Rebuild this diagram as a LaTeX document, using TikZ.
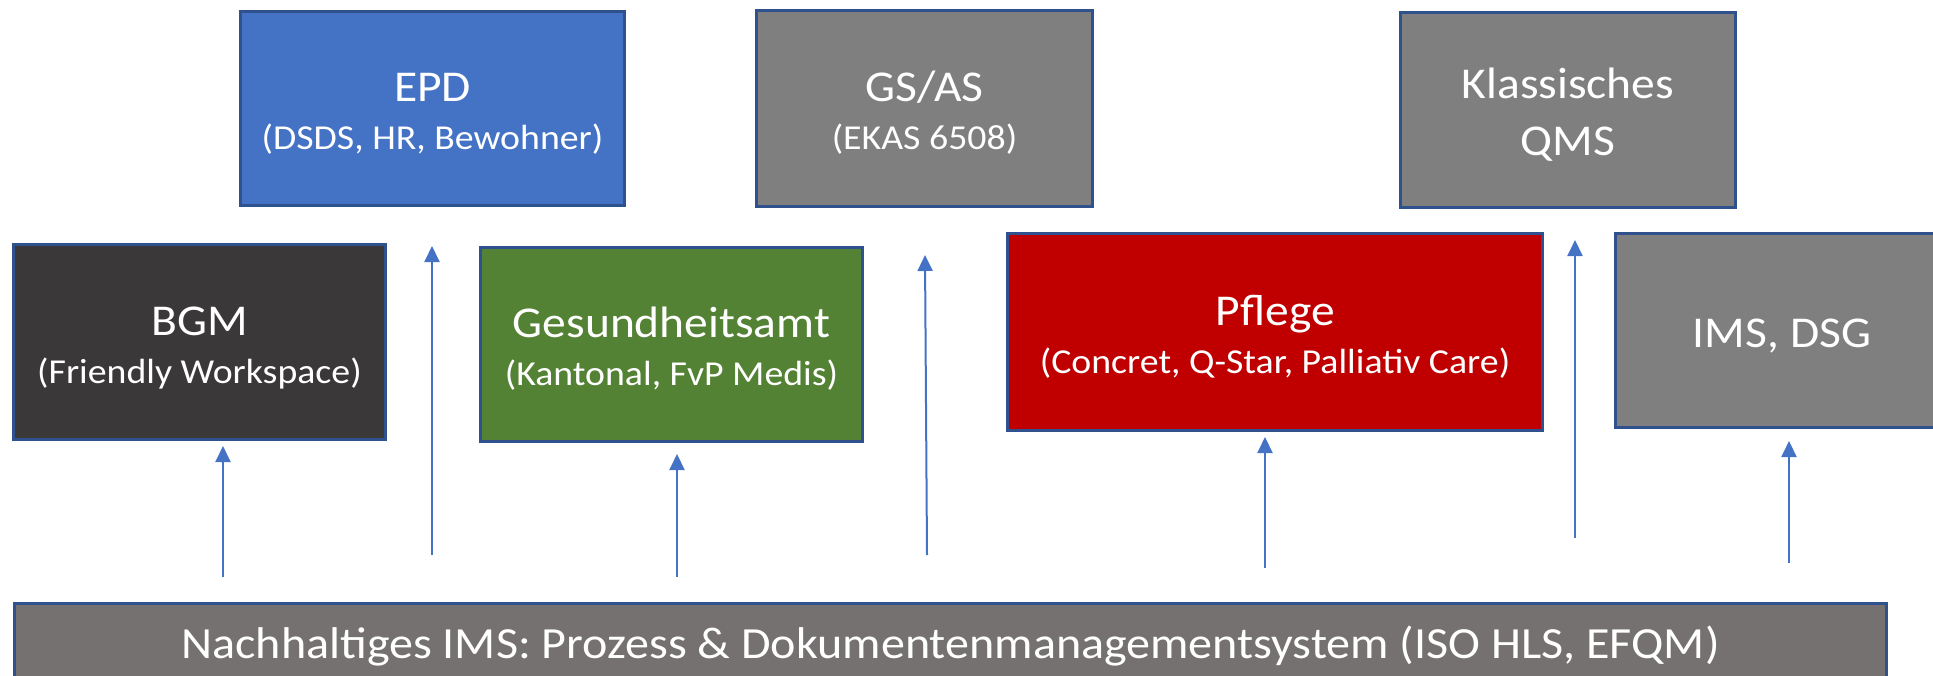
\documentclass[tikz,border=0pt]{standalone}
\usepackage{fontspec}
\setmainfont{Carlito}[FakeStretch=1.08]
\usepackage{tikz}
\usetikzlibrary{arrows.meta, positioning}

\definecolor{epdblue}{HTML}{4472C4}
\definecolor{boxgray}{HTML}{7F7F7F}
\definecolor{bgmdark}{HTML}{3A3838}
\definecolor{amtgreen}{HTML}{548235}
\definecolor{pflegered}{HTML}{C00000}
\definecolor{basegray}{HTML}{767171}
\definecolor{rimblue}{HTML}{2F528F}

\newcommand{\subline}[1]{{\fontsize{35}{48}\selectfont #1}}
\newcommand{\tstrut}{\rule{0pt}{45pt}}
\newcommand{\bstrut}{\rule[-11pt]{0pt}{0pt}}

\begin{document}
\begin{tikzpicture}[x=1pt, y=-1pt,
    box/.style={rectangle, draw=rimblue, line width=3pt, text=white, align=center, inner sep=0pt, font=\fontsize{44}{48}\selectfont},
    arr/.style={draw=epdblue, line width=2pt, -{Triangle[length=16pt, width=15pt]}}]

                \useasboundingbox (0,0) rectangle (1933,675);
                \clip (0,0) rectangle (1933,675);

                % Nodes
                \node (epd) [box, fill=epdblue, minimum width=384pt, minimum height=194pt] at (432.5,108.5) {\tstrut EPD\\\subline{(DSDS, HR, Bewohner)}\bstrut};
                \node (gsas) [right=129pt of epd, box, fill=boxgray, minimum width=336pt, minimum height=196pt] {\tstrut GS/AS\\\subline{(EKAS 6508)}\bstrut};
                \node (qms) [right=305pt of gsas, yshift=-1.5pt, box, fill=boxgray, minimum width=335pt, minimum height=195pt, font=\fontsize{44}{57}\selectfont] {\tstrut Klassisches\\QMS\bstrut};
                \node (bgm) [box, fill=bgmdark, minimum width=372pt, minimum height=195pt] at (199.5,342) {\tstrut BGM\\\subline{(Friendly Workspace)}\bstrut};
                \node (gesa) [right=92pt of bgm, yshift=-2.5pt, box, fill=amtgreen, minimum width=382pt, minimum height=194pt] {\tstrut Gesundheitsamt\\\subline{(Kantonal, FvP Medis)}\bstrut};
                \node (pflege) [right=142pt of gesa, yshift=12.5pt, box, fill=pflegered, minimum width=535pt, minimum height=197pt] {\tstrut Pflege\\\subline{(Concret, Q-Star, Palliativ Care)}\bstrut};
                \node (ims) [right=70pt of pflege, yshift=1.5pt, box, fill=boxgray, minimum width=333pt, minimum height=194pt] {\tstrut IMS, DSG\bstrut};
                \node (base) [box, fill=basegray, minimum width=1872pt, minimum height=75pt, font=\fontsize{44.5}{48}\selectfont] at (950.5,641) {\tstrut Nachhaltiges IMS: Prozess \& Dokumentenmanagementsystem (ISO HLS, EFQM)\bstrut};

                % Arrow ends
                \coordinate (bgmtail) at (223,577);
                \coordinate (bgmhead) at (223,446);
                \coordinate (epdtail) at (432,555);
                \coordinate (epdhead) at (432,246);
                \coordinate (gesatail) at (677,577);
                \coordinate (gesahead) at (677,454);
                \coordinate (gsastail) at (927,555);
                \coordinate (gsashead) at (925,255);
                \coordinate (pflegetail) at (1265,568);
                \coordinate (pflegehead) at (1265,437);
                \coordinate (qmstail) at (1575,538);
                \coordinate (qmshead) at (1575,240);
                \coordinate (imstail) at (1789,563);
                \coordinate (imshead) at (1789,441);

                % Edges
                \draw[arr] (bgmtail) -- (bgmhead);
                \draw[arr] (epdtail) -- (epdhead);
                \draw[arr] (gesatail) -- (gesahead);
                \draw[arr] (gsastail) -- (gsashead);
                \draw[arr] (pflegetail) -- (pflegehead);
                \draw[arr] (qmstail) -- (qmshead);
                \draw[arr] (imstail) -- (imshead);
            \end{tikzpicture}
\end{document}
